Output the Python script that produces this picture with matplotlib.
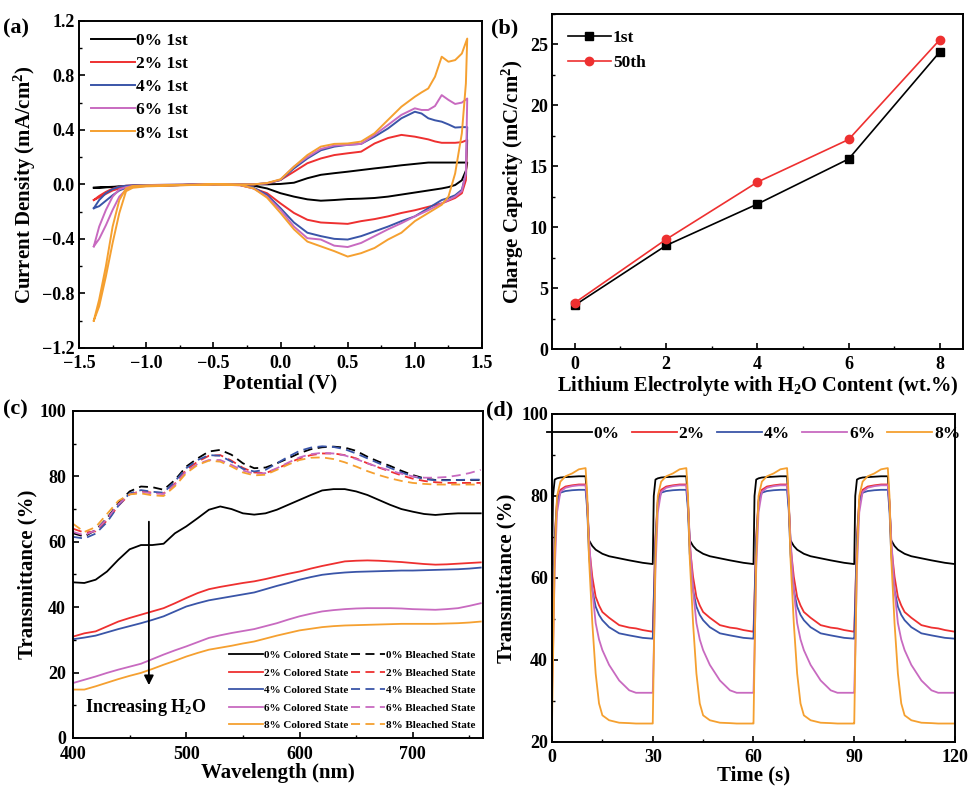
import numpy as np
import matplotlib
matplotlib.use('Agg')
from matplotlib import pyplot as plt
from matplotlib.ticker import MultipleLocator

plt.rcParams['font.family'] = 'Liberation Serif'
plt.rcParams['font.weight'] = 'bold'
plt.rcParams['axes.labelweight'] = 'bold'
plt.rcParams['mathtext.fontset'] = 'custom'
plt.rcParams['mathtext.rm'] = 'Liberation Serif:bold'
plt.rcParams['mathtext.default'] = 'rm'
plt.rcParams['axes.linewidth'] = 1.4
plt.rcParams['xtick.direction'] = 'in'
plt.rcParams['ytick.direction'] = 'in'

cores = ['#000000', '#ee3030', '#3a55a8', '#c86ac0', '#f5a030']
pct = ['0%', '2%', '4%', '6%', '8%']

# ---- (a) cyclic voltammetry, forward (anodic) and back (cathodic) branches
cv_v_up = [-1.39, -1.35, -1.3, -1.25, -1.2, -1.15, -1.1, -1.0, -0.5, -0.2, -0.1, 0.0, 0.1, 0.2, 0.3, 0.4, 0.5,
           0.6, 0.7, 0.8, 0.9, 1.0, 1.05, 1.1, 1.15, 1.2, 1.25, 1.3, 1.35, 1.39]
cv_up = [
    [-0.025, -0.024, -0.022, -0.02, -0.017, -0.014, -0.012, -0.01, 0.0, 0.0, 0.0, 0.003, 0.012, 0.045, 0.07, 0.082,
     0.093, 0.105, 0.117, 0.128, 0.14, 0.15, 0.155, 0.16, 0.16, 0.16, 0.16, 0.16, 0.16, 0.16],
    [-0.115, -0.085, -0.055, -0.032, -0.017, -0.01, -0.007, -0.005, 0.0, 0.0, 0.007, 0.032, 0.093, 0.155, 0.19,
     0.215, 0.228, 0.24, 0.3, 0.34, 0.363, 0.35, 0.34, 0.33, 0.315, 0.305, 0.305, 0.305, 0.31, 0.325],
    [-0.175, -0.115, -0.065, -0.035, -0.017, -0.01, -0.007, -0.005, 0.0, 0.0, 0.008, 0.032, 0.117, 0.19, 0.25,
     0.277, 0.29, 0.297, 0.35, 0.41, 0.485, 0.533, 0.52, 0.485, 0.47, 0.46, 0.44, 0.417, 0.42, 0.42],
    [-0.455, -0.31, -0.188, -0.09, -0.037, -0.02, -0.012, -0.008, 0.0, 0.0, 0.008, 0.035, 0.13, 0.2, 0.26,
     0.285, 0.29, 0.297, 0.363, 0.436, 0.51, 0.558, 0.546, 0.546, 0.575, 0.655, 0.62, 0.59, 0.6, 0.63],
    [-1.0, -0.845, -0.6, -0.31, -0.115, -0.03, -0.012, -0.008, 0.0, 0.0, 0.01, 0.037, 0.13, 0.215, 0.277,
     0.297, 0.3, 0.314, 0.375, 0.473, 0.57, 0.643, 0.675, 0.704, 0.79, 0.937, 0.9, 0.912, 0.96, 1.07],
]
cv_v_down = [1.39, 1.38, 1.35, 1.3, 1.25, 1.2, 1.1, 1.0, 0.9, 0.8, 0.7, 0.6, 0.5, 0.4, 0.3, 0.2, 0.1, 0.0,
             -0.1, -0.2, -0.3, -0.5, -1.0, -1.1, -1.15, -1.2, -1.25, -1.3, -1.35, -1.39]
cv_down = [
    [0.16, 0.1, 0.03, -0.005, -0.02, -0.03, -0.045, -0.06, -0.075, -0.09, -0.1, -0.105, -0.108, -0.115, -0.12,
     -0.11, -0.09, -0.065, -0.03, -0.01, 0.0, 0.0, -0.01, -0.012, -0.014, -0.016, -0.018, -0.02, -0.023, -0.025],
    [0.325, 0.03, -0.065, -0.1, -0.12, -0.14, -0.165, -0.19, -0.21, -0.235, -0.255, -0.27, -0.29, -0.285, -0.28,
     -0.26, -0.21, -0.14, -0.065, -0.03, -0.007, 0.0, -0.01, -0.015, -0.02, -0.03, -0.045, -0.07, -0.095, -0.115],
    [0.42, 0.08, -0.04, -0.08, -0.1, -0.115, -0.175, -0.235, -0.27, -0.31, -0.345, -0.38, -0.405, -0.4, -0.38,
     -0.355, -0.28, -0.175, -0.077, -0.025, -0.005, 0.0, -0.01, -0.015, -0.025, -0.045, -0.08, -0.12, -0.16, -0.175],
    [0.63, 0.08, -0.05, -0.09, -0.115, -0.14, -0.19, -0.235, -0.285, -0.33, -0.38, -0.43, -0.46, -0.45, -0.405,
     -0.395, -0.31, -0.188, -0.09, -0.03, -0.005, 0.0, -0.012, -0.02, -0.04, -0.09, -0.188, -0.3, -0.4, -0.455],
    [1.07, 0.74, 0.375, 0.08, -0.09, -0.15, -0.21, -0.27, -0.355, -0.405, -0.467, -0.505, -0.53, -0.49, -0.455,
     -0.42, -0.33, -0.21, -0.098, -0.03, -0.005, 0.0, -0.015, -0.025, -0.05, -0.21, -0.43, -0.675, -0.895, -1.0],
]

# ---- (b) charge capacity
h2o = [0, 2, 4, 6, 8]
cap_1st = [3.6, 8.5, 11.9, 15.6, 24.4]
cap_50th = [3.8, 9.0, 13.7, 17.2, 25.4]

# ---- (c) transmittance spectra
wl = [400, 410, 420, 430, 440, 450, 460, 470, 480, 490, 500, 510, 520, 530, 540, 550, 560, 570, 580, 590, 600,
      610, 620, 630, 640, 650, 660, 670, 680, 690, 700, 710, 720, 730, 740, 750, 760]
t_colored = [
    [47.6, 47.4, 48.4, 50.9, 54.5, 57.7, 59.0, 59.0, 59.4, 62.6, 64.7, 67.2, 69.8, 70.8, 70.0, 68.7, 68.3, 68.7,
     69.8, 71.3, 72.8, 74.3, 75.7, 76.1, 76.1, 75.4, 74.3, 72.8, 71.3, 70.0, 69.2, 68.5, 68.2, 68.5, 68.7, 68.7, 68.7],
    [31.0, 32.0, 32.6, 34.1, 35.6, 36.7, 37.7, 38.7, 39.7, 41.2, 42.8, 44.3, 45.5, 46.2, 46.8, 47.4, 47.9, 48.6,
     49.4, 50.2, 50.9, 51.8, 52.6, 53.3, 54.0, 54.2, 54.3, 54.2, 54.0, 53.8, 53.5, 53.2, 53.0, 53.1, 53.3, 53.5, 53.7],
    [30.2, 30.7, 31.3, 32.3, 33.3, 34.2, 35.1, 36.1, 37.2, 38.7, 40.2, 41.2, 42.1, 42.7, 43.3, 43.9, 44.5, 45.5,
     46.5, 47.4, 48.4, 49.2, 49.9, 50.3, 50.6, 50.8, 50.9, 51.0, 51.1, 51.2, 51.2, 51.3, 51.4, 51.5, 51.6, 51.8, 52.1],
    [16.8, 17.8, 18.8, 19.9, 20.9, 21.8, 22.7, 24.1, 25.5, 26.8, 28.0, 29.3, 30.6, 31.4, 32.1, 32.7, 33.3, 34.2,
     35.1, 36.2, 37.2, 38.0, 38.7, 39.1, 39.4, 39.6, 39.7, 39.7, 39.7, 39.6, 39.4, 39.3, 39.2, 39.4, 39.7, 40.4, 41.2],
    [14.8, 14.8, 15.8, 16.9, 18.0, 19.0, 19.9, 21.1, 22.4, 23.6, 24.9, 26.0, 27.0, 27.6, 28.2, 28.9, 29.5, 30.4,
     31.3, 32.1, 32.9, 33.4, 33.9, 34.2, 34.4, 34.5, 34.6, 34.7, 34.8, 34.9, 34.9, 34.9, 34.9, 35.0, 35.1, 35.3, 35.6],
]
t_bleached = [
    [62.6, 61.6, 63.6, 67.2, 71.8, 75.4, 76.9, 76.7, 75.9, 78.9, 83.0, 85.5, 87.6, 88.1, 86.6, 84.0, 82.5, 82.7,
     84.0, 85.5, 87.1, 88.3, 88.9, 89.1, 88.8, 87.8, 86.0, 84.5, 83.2, 81.7, 80.4, 79.4, 78.9, 78.9, 78.9, 78.9, 78.9],
    [64.0, 62.8, 63.2, 66.5, 71.0, 74.5, 75.5, 75.0, 74.8, 77.8, 82.0, 84.5, 86.3, 86.5, 84.8, 82.6, 81.2, 81.0,
     82.3, 84.0, 85.5, 86.5, 87.0, 87.0, 86.5, 85.5, 84.0, 82.7, 81.5, 80.3, 79.3, 78.6, 78.2, 78.0, 78.0, 78.0, 78.0],
    [61.5, 61.0, 62.5, 66.0, 71.0, 74.8, 75.8, 75.3, 75.0, 78.5, 82.5, 85.0, 86.5, 86.3, 84.5, 82.3, 81.5, 82.0,
     84.0, 86.0, 87.8, 88.8, 89.2, 89.0, 88.3, 87.0, 85.5, 84.0, 82.6, 81.2, 80.0, 79.2, 78.8, 78.8, 78.9, 79.0, 79.0],
    [63.0, 62.0, 63.5, 67.0, 71.5, 74.5, 75.2, 74.8, 74.6, 77.5, 81.5, 83.8, 85.0, 85.0, 83.5, 81.8, 80.8, 81.0,
     82.5, 84.2, 85.8, 86.8, 87.2, 87.0, 86.4, 85.3, 84.0, 82.8, 81.8, 80.8, 80.0, 79.6, 79.6, 79.8, 80.3, 81.0, 82.0],
    [65.5, 63.0, 64.5, 68.5, 72.5, 74.5, 74.8, 74.2, 74.0, 77.0, 81.0, 83.5, 84.8, 84.5, 83.0, 81.2, 80.3, 80.5,
     82.0, 83.6, 85.0, 85.7, 85.8, 85.3, 84.3, 83.0, 81.6, 80.4, 79.4, 78.6, 78.0, 77.7, 77.5, 77.5, 77.5, 77.5, 77.5],
]

# ---- (d) switching response, one 30 s cycle read per film, four cycles measured
t_ciclo = [0.0, 0.3, 0.8, 1.5, 2.5, 4, 6, 8, 10, 10.5, 11, 12, 13, 14, 15, 17, 20, 23, 25, 27, 29.9]
resp = [
    [63.4, 80.0, 84.0, 84.3, 84.5, 84.6, 84.7, 84.8, 84.8, 78.0, 69.2, 67.8, 66.9, 66.4, 65.9, 65.3, 64.8, 64.3,
     64.0, 63.7, 63.4],
    [46.9, 55.0, 70.0, 79.0, 81.5, 82.3, 82.6, 82.8, 82.8, 78.0, 68.0, 60.3, 55.4, 53.3, 51.7, 50.3, 48.5, 47.9,
     47.7, 47.3, 46.9],
    [45.2, 54.0, 69.0, 78.5, 80.8, 81.2, 81.4, 81.5, 81.5, 76.5, 66.0, 57.0, 53.0, 51.0, 49.7, 48.0, 46.5, 46.0,
     45.7, 45.4, 45.2],
    [32.0, 42.0, 62.0, 76.0, 81.0, 82.0, 82.4, 82.6, 82.6, 78.5, 70.0, 57.0, 49.0, 45.0, 42.4, 38.8, 35.0, 32.6,
     32.0, 32.0, 32.0],
    [24.5, 40.0, 65.0, 80.0, 83.5, 84.8, 85.5, 86.5, 86.8, 80.0, 65.0, 49.0, 36.7, 29.4, 26.5, 25.3, 24.7, 24.6,
     24.5, 24.5, 24.5],
]
n_ciclos = 4

fig = plt.figure(figsize=(9.71, 7.87), dpi=100)
ax_a = fig.add_axes([0.0814, 0.558, 0.415, 0.4155])
ax_b = fig.add_axes([0.5685, 0.5565, 0.423, 0.4257])
ax_c = fig.add_axes([0.0752, 0.0623, 0.4222, 0.4155])
ax_d = fig.add_axes([0.5685, 0.0572, 0.415, 0.4168])

for ax in (ax_a, ax_b, ax_c, ax_d):
    ax.tick_params(labelsize=13, width=1.2, length=4, pad=3)
    ax.tick_params(which='minor', width=1.0, length=2.5)
    ax.tick_params(top=False, right=False, which='both')
    ax.tick_params(axis='x', pad=5)

# (a)
for i in range(5):
    v = list(cv_v_up) + list(cv_v_down)
    j = list(cv_up[i]) + list(cv_down[i])
    ax_a.plot(v, j, color=cores[i], lw=1.4, label=pct[i] + ' 1st')
ax_a.set_xlim(-1.5, 1.5)
ax_a.set_ylim(-1.2, 1.2)
ax_a.xaxis.set_major_locator(MultipleLocator(0.5))
ax_a.xaxis.set_minor_locator(MultipleLocator(0.25))
ax_a.yaxis.set_major_locator(MultipleLocator(0.4))
ax_a.yaxis.set_minor_locator(MultipleLocator(0.2))
ax_a.set_xlabel('Potential (V)', fontsize=15, labelpad=1)
ax_a.set_ylabel('Current Density (mA/cm$^2$)', fontsize=15, labelpad=3)
ax_a.legend(loc='upper left', frameon=False, fontsize=12.5, handlelength=2.5, handletextpad=0.1,
            labelspacing=0.4, borderaxespad=0.3)
fig.text(0.003, 0.957, '(a)', fontsize=16, fontweight='bold')

# (b)
ax_b.plot(h2o, cap_1st, color='black', lw=1.2, marker='s', ms=6, label='1st')
ax_b.plot(h2o, cap_50th, color='#ee3030', lw=1.2, marker='o', ms=6, label='50th')
ax_b.set_xlim(-0.5, 8.5)
ax_b.set_ylim(0, 27.5)
ax_b.xaxis.set_major_locator(MultipleLocator(2))
ax_b.xaxis.set_minor_locator(MultipleLocator(1))
ax_b.yaxis.set_major_locator(MultipleLocator(5))
ax_b.yaxis.set_minor_locator(MultipleLocator(2.5))
ax_b.set_xlabel('Lithium Electrolyte with H$_2$O Content (wt.%)', fontsize=14.7, labelpad=1)
ax_b.set_ylabel('Charge Capacity (mC/cm$^2$)', fontsize=15, labelpad=3)
ax_b.legend(loc='upper left', frameon=False, fontsize=12.5, handlelength=2.5, handletextpad=0.1,
            labelspacing=0.55, borderaxespad=0.5)
fig.text(0.506, 0.958, '(b)', fontsize=16, fontweight='bold')

# (c)
h_sol = []
h_tr = []
for i in range(5):
    l1, = ax_c.plot(wl, t_colored[i], color=cores[i], lw=1.3)
    l2, = ax_c.plot(wl, t_bleached[i], color=cores[i], lw=1.3, ls=(0, (5, 3)))
    h_sol.append(l1)
    h_tr.append(l2)
ax_c.set_xlim(400, 762)
ax_c.set_ylim(0, 100)
ax_c.xaxis.set_major_locator(MultipleLocator(100))
ax_c.xaxis.set_minor_locator(MultipleLocator(50))
ax_c.yaxis.set_major_locator(MultipleLocator(20))
ax_c.yaxis.set_minor_locator(MultipleLocator(10))
ax_c.tick_params(axis='x', pad=6)
ax_c.tick_params(axis='y', pad=5)
ax_c.set_xlabel('Wavelength (nm)', fontsize=15, labelpad=0)
ax_c.set_ylabel('Transmittance (%)', fontsize=15, labelpad=1)
ax_c.legend(h_sol + h_tr, [p + ' Colored State' for p in pct] + [p + ' Bleached State' for p in pct],
            ncol=2, loc='lower right', frameon=False, fontsize=8, handlelength=3, handletextpad=0.1,
            labelspacing=0.7, columnspacing=0.3, borderaxespad=0.3)
ax_c.annotate('', xy=(467, 15.3), xytext=(467, 67),
              arrowprops=dict(arrowstyle='-|>', color='black', lw=1.3, mutation_scale=14))
ax_c.text(411, 9.2, 'Increasing H$_2$O', fontsize=13, fontweight='bold', va='center')
fig.text(0.003, 0.473, '(c)', fontsize=16, fontweight='bold')

# (d)
t_full = []
for k in range(n_ciclos):
    t_full += [t + 30 * k for t in t_ciclo]
for i in range(5):
    ax_d.plot(t_full, resp[i] * n_ciclos, color=cores[i], lw=1.3, label=pct[i])
ax_d.set_xlim(0, 120)
ax_d.set_ylim(20, 100)
ax_d.xaxis.set_major_locator(MultipleLocator(30))
ax_d.xaxis.set_minor_locator(MultipleLocator(15))
ax_d.yaxis.set_major_locator(MultipleLocator(20))
ax_d.yaxis.set_minor_locator(MultipleLocator(10))
ax_d.set_xlabel('Time (s)', fontsize=15, labelpad=0)
ax_d.set_ylabel('Transmittance (%)', fontsize=15, labelpad=3)
ax_d.legend(loc='upper center', ncol=5, frameon=False, fontsize=12.5, handlelength=2.6, handletextpad=0.1,
            columnspacing=0.7, borderaxespad=0.3)
fig.text(0.501, 0.472, '(d)', fontsize=16, fontweight='bold')

fig.savefig('out.png', dpi=100)
